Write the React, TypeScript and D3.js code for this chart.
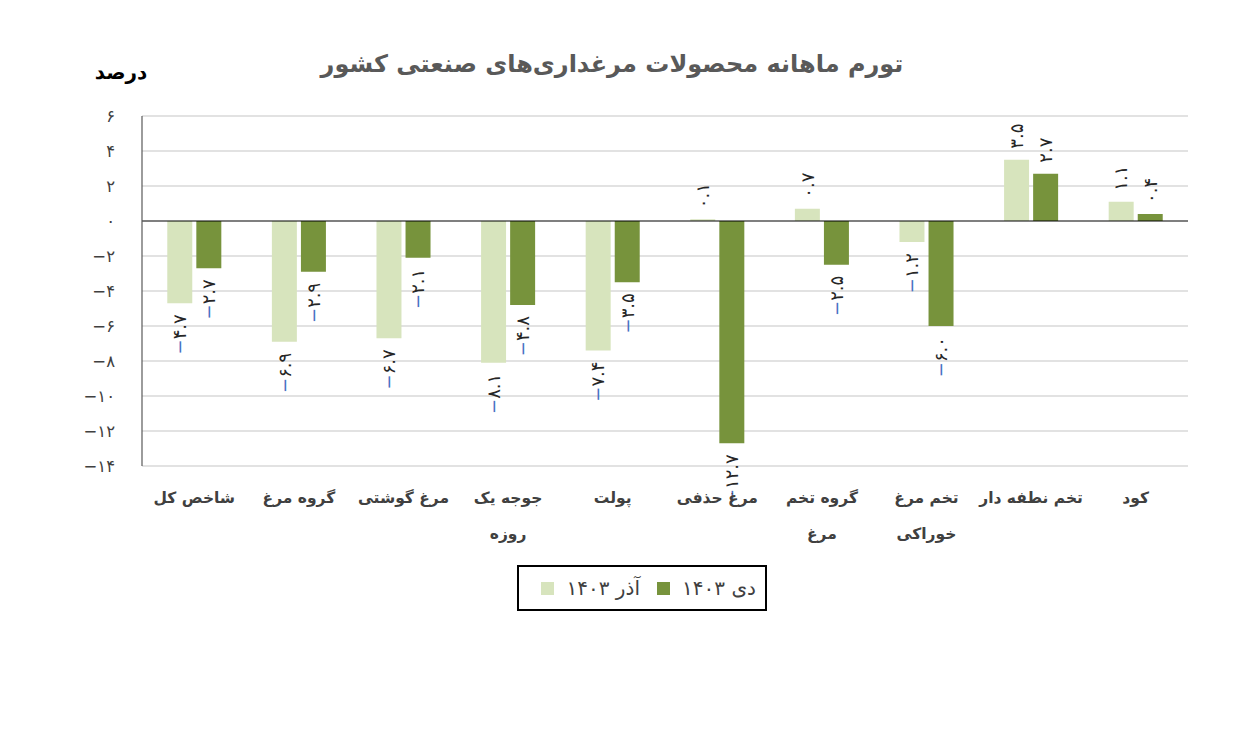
import React from "react";
import * as d3 from "d3";

const categories: string[][] = [
  ["شاخص کل"],
  ["گروه مرغ"],
  ["مرغ گوشتی"],
  ["جوجه یک", "روزه"],
  ["پولت"],
  ["مرغ حذفی"],
  ["گروه تخم", "مرغ"],
  ["تخم مرغ", "خوراکی"],
  ["تخم نطفه دار"],
  ["کود"],
];
const azar1403: number[] = [-4.7, -6.9, -6.7, -8.1, -7.4, 0.1, 0.7, -1.2, 3.5, 1.1];
const dey1403: number[] = [-2.7, -2.9, -2.1, -4.8, -3.5, -12.7, -2.5, -6.0, 2.7, 0.4];
const seriesNames = ["آذر ۱۴۰۳", "دی ۱۴۰۳"];
const seriesColors = ["#D7E4BD", "#77933C"];
const yTicks: number[] = [6, 4, 2, 0, -2, -4, -6, -8, -10, -12, -14];
const title = "تورم ماهانه محصولات مرغداری‌های صنعتی کشور";
const unitLabel = "درصد";

const FONT = "'DejaVu Sans', sans-serif";
const fa = (s: string) => s.replace(/[0-9]/g, (d) => "۰۱۲۳۴۵۶۷۸۹"[+d]);

export default function App() {
  const left = 142, right = 1188, top = 116, bottom = 466;
  const y = d3.scaleLinear().domain([-14, 6]).range([bottom, top]);
  const x0 = d3.scaleBand<number>().domain(d3.range(categories.length)).range([left, right]).padding(0);
  const x1 = d3.scaleBand<number>().domain([0, 1]).range([0, x0.bandwidth()]).paddingInner(0.14).paddingOuter(0.87);
  const series = [azar1403, dey1403];

  return (
    <svg width={1242} height={731} style={{ display: "block", position: "absolute", left: 0, top: 0 }}>
      <rect width={1242} height={731} fill="#fff" />
      <text x={612} y={72} textAnchor="middle" fontFamily={FONT} fontWeight="bold" fontSize={24} fill="#595959">{title}</text>
      <text x={121} y={79} textAnchor="middle" fontFamily={FONT} fontWeight="bold" fontSize={20} fill="#000">{unitLabel}</text>

      {yTicks.map((t) => (
        <g key={t}>
          {t !== 0 && <line x1={left} x2={right} y1={y(t)} y2={y(t)} stroke="#D9D9D9" strokeWidth={1.5} />}
          <text x={115} y={y(t)} dy="0.35em" textAnchor="end" fontFamily={FONT} fontSize={16.5} fill="#404040">
            {t < 0 ? "−" + fa(String(-t)) : fa(String(t))}
          </text>
        </g>
      ))}

      {series.map((vals, si) =>
        vals.map((v, ci) => {
          const bx = (x0(ci) as number) + (x1(si) as number);
          const bw = x1.bandwidth();
          return (
            <rect key={`b${si}-${ci}`} x={bx} y={Math.min(y(v), y(0))} width={bw} height={Math.abs(y(v) - y(0))} fill={seriesColors[si]} />
          );
        })
      )}

      <line x1={left} x2={right} y1={y(0)} y2={y(0)} stroke="#000" strokeWidth={1.2} />
      <line x1={left} x2={left} y1={top} y2={bottom} stroke="#595959" strokeWidth={1.2} />

      {series.map((vals, si) =>
        vals.map((v, ci) => {
          const cx = (x0(ci) as number) + (x1(si) as number) + x1.bandwidth() / 2;
          const neg = v < 0;
          const ly = neg ? y(v) + 11 : y(v) - 11;
          const body = fa(Math.abs(v).toFixed(1));
          return (
            <text key={`l${si}-${ci}`} transform={`translate(${cx},${ly}) rotate(-90)`} textAnchor={neg ? "end" : "start"}
              dy="0.35em" fontFamily={FONT} fontSize={18} fill="#262626">
              {neg && <tspan fill="#4472C4">−</tspan>}
              <tspan>{body}</tspan>
            </text>
          );
        })
      )}

      {categories.map((lines, ci) => {
        const cx = (x0(ci) as number) + x0.bandwidth() / 2;
        return (
          <text key={`c${ci}`} textAnchor="middle" fontFamily={FONT} fontWeight="bold" fontSize={15.5} fill="#404040">
            {lines.map((l, li) => (
              <tspan key={li} x={cx} y={503 + li * 36}>{l}</tspan>
            ))}
          </text>
        );
      })}

      <rect x={518} y={566} width={248} height={44} fill="#fff" stroke="#000" strokeWidth={2} />
      <rect x={657} y={582} width={13} height={13} fill={seriesColors[1]} />
      <text x={756} y={595} textAnchor="end" fontFamily={FONT} fontSize={20} fill="#404040">{seriesNames[1]}</text>
      <rect x={541} y={582} width={13} height={13} fill={seriesColors[0]} />
      <text x={640} y={595} textAnchor="end" fontFamily={FONT} fontSize={20} fill="#404040">{seriesNames[0]}</text>
    </svg>
  );
}
